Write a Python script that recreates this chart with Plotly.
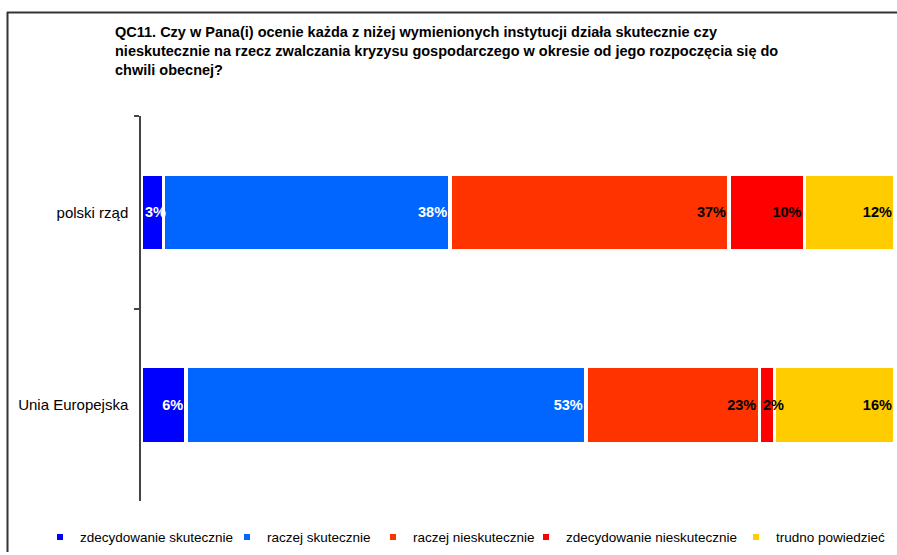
import plotly.graph_objects as go

categories = ["polski rząd", "Unia Europejska"]
series_names = ["zdecydowanie skutecznie", "raczej skutecznie", "raczej nieskutecznie",
                "zdecydowanie nieskutecznie", "trudno powiedzieć"]
zdecydowanie_skutecznie = [3, 6]
raczej_skutecznie = [38, 53]
raczej_nieskutecznie = [37, 23]
zdecydowanie_nieskutecznie = [10, 2]
trudno_powiedziec = [12, 16]
series_values = [zdecydowanie_skutecznie, raczej_skutecznie, raczej_nieskutecznie,
                 zdecydowanie_nieskutecznie, trudno_powiedziec]
title_lines = [
    "QC11. Czy w Pana(i) ocenie każda z niżej wymienionych instytucji działa skutecznie czy",
    "nieskutecznie na rzecz zwalczania kryzysu gospodarczego w okresie od jego rozpoczęcia się do",
    "chwili obecnej?",
]

colors = ["#0000FF", "#0066FF", "#FF3300", "#FF0000", "#FFCC00"]
text_colors = ["white", "white", "black", "black", "black"]
legend_widths = [142, 101, 108, 165, 112]
FONT = "Arial, 'Liberation Sans', sans-serif"

W, H = 897, 555
ML, MR, MT, MB = 141, 2, 116, 47
PW, PH = W - ML - MR, H - MT - MB


def px_x(x):
    return (x - ML) / PW


def px_y(y):
    return (H - MB - y) / PH


fig = go.Figure()
annotations = []
cum = [0] * len(categories)
for name, vals, col, tcol, lw in zip(series_names, series_values, colors, text_colors, legend_widths):
    texts = []
    for i, v in enumerate(vals):
        if v < 5:
            texts.append("")
            annotations.append(dict(x=cum[i], y=categories[i], xref="x", yref="y",
                                    text=f"<b>{v}%</b>", showarrow=False, xanchor="left",
                                    xshift=2,
                                    font=dict(family=FONT, size=14.5, color=tcol)))
        else:
            texts.append(f"<b>{v}%</b>")
        cum[i] += v
    fig.add_trace(go.Bar(
        y=categories, x=vals, orientation="h", name=name,
        marker=dict(color=col, line=dict(color="white", width=3.5)),
        text=texts, textposition="inside", insidetextanchor="end", constraintext="none",
        textfont=dict(family=FONT, size=14.5, color=tcol),
        showlegend=False, hoverinfo="skip",
    ))
    fig.add_trace(go.Scatter(
        x=[None], y=[None], mode="markers", name=name,
        marker=dict(symbol="square", size=6, color=col),
        showlegend=True, legendwidth=lw,
    ))

annotations.append(dict(
    x=px_x(113), y=px_y(20), xref="paper", yref="paper", xanchor="left", yanchor="top",
    align="left", showarrow=False,
    text="<b>" + "<br>".join(title_lines) + "</b>",
    font=dict(family=FONT, size=14.5, color="black"),
))

shapes = [
    dict(type="line", xref="paper", yref="paper", x0=px_x(7), x1=px_x(W + 5),
         y0=px_y(10.5), y1=px_y(10.5), line=dict(color="#333333", width=2)),
    dict(type="line", xref="paper", yref="paper", x0=px_x(7.5), x1=px_x(7.5),
         y0=px_y(10), y1=px_y(H + 5), line=dict(color="#333333", width=2)),
]

fig.update_layout(
    width=W, height=H,
    margin=dict(l=ML, r=MR, t=MT, b=MB, pad=0),
    barmode="stack", bargap=0.6,
    plot_bgcolor="white", paper_bgcolor="white",
    font=dict(family=FONT, size=14.5, color="black"),
    xaxis=dict(range=[0, 100], visible=False, fixedrange=True),
    yaxis=dict(autorange="reversed", showline=True, linecolor="#444444", linewidth=1.5,
               ticks="outside", ticklen=5, tickcolor="#444444", tickwidth=1.5,
               tickson="boundaries", showgrid=False, zeroline=False,
               tickfont=dict(family=FONT, size=15, color="black"),
               ticklabelstandoff=8, fixedrange=True),
    legend=dict(orientation="h", x=px_x(40), xanchor="left", y=px_y(545), yanchor="middle",
                font=dict(family=FONT, size=13.5, color="black"), itemwidth=30,
                traceorder="normal", tracegroupgap=0, bgcolor="rgba(0,0,0,0)"),
    annotations=annotations,
    shapes=shapes,
)

fig.write_html("out.html", config={"displayModeBar": False},
               post_script="document.body.style.margin='0';document.body.style.overflow='hidden';")
